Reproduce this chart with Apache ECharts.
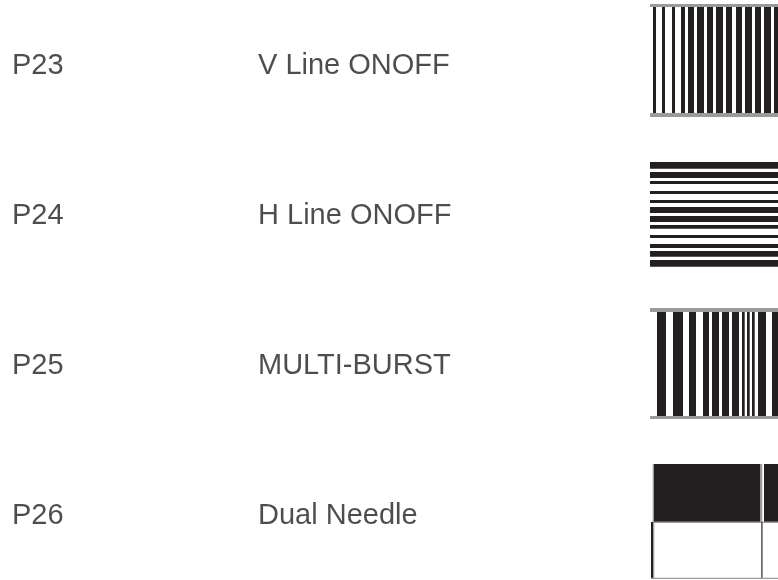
<!DOCTYPE html>
<html><head><meta charset="utf-8">
<script src="https://cdn.jsdelivr.net/npm/echarts@6/dist/echarts.min.js"></script>
<style>html,body{margin:0;padding:0;background:#fff}#c{width:778px;height:580px}</style>
</head><body><div id="c"></div>
<script>
// ---- data ----
const codes = ['P23', 'P24', 'P25', 'P26'];
const names = ['V Line ONOFF', 'H Line ONOFF', 'MULTI-BURST', 'Dual Needle'];
// black stripe edges, measured in pattern pixels from the pattern box's left/top
const vLineBars = [[3,6],[12,15],[22,25],[31,35],[38,44],[47,54],[57,63],[66,73],[76,82],[86,92],[95,102],[105,111],[114,121],[124,130]];
const hLineBars = [[12,18.7],[22,28],[31,34],[41,44],[50,53],[57,63],[66,72],[75,78.7],[85,88],[94,98],[101,106.7],[110,116.7]];
const burstBars = [[7,16],[23,33],[39,46],[53,59],[62,69],[72,79],[82,89],[92,94.7],[97,99.7],[102,104.7],[108,116],[122,130]];
// dual needle: needle x positions (pattern px)
const needleX = [3, 111];

// ---- layout ----
const W = 778, H = 580;
const rowY = [65.5, 215.5, 365.5, 516];
const codeX = 12, nameX = 258;
const patX = 650;
const BLACK = '#231f20', GREY = '#9b9b9b', TEXT = '#231f20';

const chart = echarts.init(document.getElementById('c'), null, {renderer: 'canvas'});

function rect(api, x0, y0, x1, y1, fill) {
  const a = api.coord([x0, y0]), b = api.coord([x1, y1]);
  return {type: 'rect', shape: {x: Math.min(a[0], b[0]), y: Math.min(a[1], b[1]), width: Math.abs(b[0]-a[0]), height: Math.abs(b[1]-a[1])}, style: {fill: fill}};
}

const patterns = [0, 1, 2, 3];
function renderPattern(params, api) {
  const k = api.value(0);
  const ch = [];
  if (k === 0) {
    const top = 4, bot = 117;
    ch.push(rect(api, patX, top, W, top + 3, GREY));
    ch.push(rect(api, patX, bot - 4, W, bot, GREY));
    vLineBars.forEach(b => ch.push(rect(api, patX + b[0], top + 3, patX + b[1], bot - 4, BLACK)));
  } else if (k === 1) {
    const top = 150;
    hLineBars.forEach(b => ch.push(rect(api, patX, top + b[0], W, top + b[1], BLACK)));
  } else if (k === 2) {
    const top = 308, bot = 419;
    ch.push(rect(api, patX, top, W, top + 4, GREY));
    ch.push(rect(api, patX, bot - 3, W, bot, GREY));
    burstBars.forEach(b => ch.push(rect(api, patX + b[0], top + 4, patX + b[1], bot - 3, BLACK)));
  } else {
    const top = 464, mid = 522, bot = 580;
    ch.push(rect(api, patX + 2.7, top, patX + 4, mid, GREY));
    ch.push(rect(api, patX + 4, top, patX + 110, mid, BLACK));
    ch.push(rect(api, patX + 110, top, patX + 112.3, mid, GREY));
    ch.push(rect(api, patX + 114, top, W, mid, BLACK));
    ch.push(rect(api, patX + 2.7, mid - 0.5, W, mid + 1, GREY));
    ch.push(rect(api, patX + needleX[0] - 2, mid, patX + needleX[0] + 0.3, bot - 2, BLACK));
    ch.push(rect(api, patX + needleX[0] + 0.3, mid, patX + needleX[0] + 1.3, bot - 2, GREY));
    ch.push(rect(api, patX + needleX[1], mid, patX + needleX[1] + 1.7, bot - 2, '#666'));
    ch.push(rect(api, patX + 1, bot - 2.3, W, bot - 1, GREY));
  }
  return {type: 'group', children: ch};
}

const labelStyle = {show: true, position: 'right', distance: 0, formatter: '{b}', color: TEXT,
                    fontFamily: 'Liberation Sans, Arial, sans-serif', fontSize: 29};

chart.setOption({
  animation: false,
  grid: {left: 0, right: 0, top: 0, bottom: 0},
  xAxis: {type: 'value', min: 0, max: W, show: false},
  yAxis: {type: 'value', min: 0, max: H, inverse: true, show: false},
  series: [
    {type: 'custom', renderItem: renderPattern, data: patterns.map(k => [k]), silent: true},
    {type: 'scatter', symbolSize: 0, silent: true,
     data: codes.map((c, i) => ({value: [codeX, rowY[i]], name: c})), label: labelStyle},
    {type: 'scatter', symbolSize: 0, silent: true,
     data: names.map((c, i) => ({value: [nameX, rowY[i]], name: c})), label: labelStyle}
  ]
});
</script></body></html>
